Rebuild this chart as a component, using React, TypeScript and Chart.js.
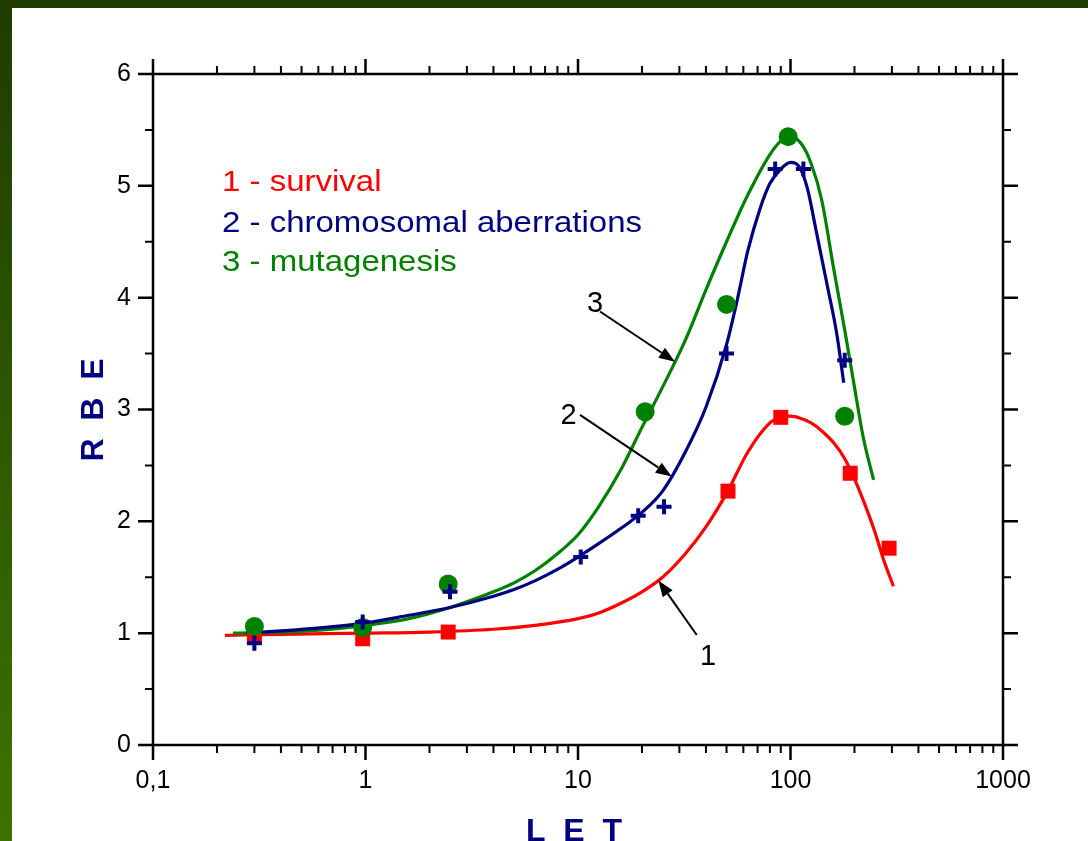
import React, { useEffect, useRef } from "react";
import { Chart, registerables } from "chart.js";

Chart.register(...registerables);

const FONT = "'Liberation Sans', Arial, sans-serif";

// Measured points
const survivalX = [0.3, 0.97, 2.45, 50.8, 90, 191, 291];
const survivalY = [0.97, 0.95, 1.01, 2.27, 2.93, 2.43, 1.76];
const chromX = [0.3, 0.97, 2.5, 10.3, 19.2, 25.4, 50, 84.7, 115, 180];
const chromY = [0.91, 1.1, 1.37, 1.68, 2.05, 2.13, 3.5, 5.15, 5.15, 3.44];
const mutaX = [0.3, 0.97, 2.45, 20.7, 50, 97.5, 180];
const mutaY = [1.06, 1.05, 1.44, 2.98, 3.94, 5.44, 2.94];

// Fitted curves
const survivalFitX = [0.218, 0.4, 1, 2, 4, 6.3, 10, 12.5, 16, 20, 25, 32, 40, 50, 63, 80, 90, 100, 112, 125, 140, 160, 180, 200, 225, 250, 275, 305];
const survivalFitY = [0.98, 0.99, 1.0, 1.01, 1.035, 1.07, 1.13, 1.18, 1.27, 1.37, 1.5, 1.71, 1.95, 2.25, 2.62, 2.88, 2.93, 2.94, 2.92, 2.88, 2.81, 2.7, 2.56, 2.38, 2.14, 1.9, 1.65, 1.42];
const chromFitX = [0.275, 0.4, 0.63, 1, 1.6, 2.5, 4, 5, 6.3, 8, 10, 12.5, 16, 20, 25, 32, 40, 50, 56, 63, 72, 80, 90, 100, 110, 120, 132, 150, 165, 178];
const chromFitY = [1.0, 1.02, 1.05, 1.09, 1.16, 1.23, 1.33, 1.39, 1.47, 1.57, 1.68, 1.8, 1.94, 2.08, 2.27, 2.62, 3.02, 3.58, 3.97, 4.42, 4.8, 5.02, 5.15, 5.21, 5.17, 4.98, 4.6, 4.08, 3.68, 3.24];
const mutaFitX = [0.238, 0.4, 0.63, 1, 1.6, 2.5, 4, 5, 6.3, 8, 10, 12.5, 16, 20, 25, 32, 40, 50, 63, 80, 90, 100, 112, 125, 140, 160, 180, 200, 220, 246];
const mutaFitY = [1.0, 1.01, 1.03, 1.07, 1.13, 1.23, 1.37, 1.45, 1.56, 1.71, 1.88, 2.13, 2.47, 2.84, 3.2, 3.62, 4.07, 4.5, 4.92, 5.28, 5.4, 5.44, 5.38, 5.2, 4.88, 4.25, 3.71, 3.2, 2.75, 2.37];

// Axis ticks
const xTickValues = [0.1, 1, 10, 100, 1000];
const xTickLabels = ["0,1", "1", "10", "100", "1000"];
const yTickValues = [0, 1, 2, 3, 4, 5, 6];

// Text
const legendLabels = ["1 - survival", "2 - chromosomal aberrations", "3 - mutagenesis"];
const seriesColors = ["#ff0000", "#000080", "#008000"];
const xTitle = "L  E  T";
const yTitle = "R  B  E";

// Curve annotations (data coordinates)
const curveLabels = ["1", "2", "3"];
const labelX = [40.9, 9.02, 12.03];
const labelY = [0.787, 2.938, 3.94];
const arrowFromX = [36.2, 10.22, 12.69];
const arrowFromY = [0.984, 2.952, 3.876];
const arrowToX = [23.9, 27.6, 28.6];
const arrowToY = [1.47, 2.4, 3.428];

const zip = (xs: number[], ys: number[]) => xs.map((x, i) => ({ x, y: ys[i] }));

const decorPlugin = {
  id: "decor",
  beforeDraw(chart: any) {
    const ctx = chart.ctx;
    const W = chart.width;
    const H = chart.height;
    ctx.save();
    const g = ctx.createLinearGradient(0, 0, 0, H);
    g.addColorStop(0, "#1e3c00");
    g.addColorStop(1, "#3d7300");
    ctx.fillStyle = g;
    ctx.fillRect(0, 0, W, H);
    ctx.fillStyle = "#ffffff";
    ctx.fillRect(12, 8, W - 12, H - 8);
    ctx.restore();
  },
  afterDraw(chart: any) {
    const ctx = chart.ctx;
    const { left, right, top, bottom } = chart.chartArea;
    const xs = chart.scales.x;
    const ys = chart.scales.y;
    ctx.save();
    ctx.strokeStyle = "#000";
    ctx.lineWidth = 2.5;
    ctx.strokeRect(left, top, right - left, bottom - top);

    const majorLen = 15;
    const minorLen = 8;
    for (const d of [0.1, 1, 10, 100]) {
      for (let m = 1; m <= 9; m++) {
        const px = xs.getPixelForValue(d * m);
        const len = m === 1 ? majorLen : minorLen;
        ctx.lineWidth = m === 1 ? 2.5 : 2;
        ctx.beginPath();
        ctx.moveTo(px, bottom);
        ctx.lineTo(px, bottom + len);
        ctx.moveTo(px, top);
        ctx.lineTo(px, top - len);
        ctx.stroke();
      }
    }
    {
      const px = xs.getPixelForValue(1000);
      ctx.lineWidth = 2.5;
      ctx.beginPath();
      ctx.moveTo(px, bottom);
      ctx.lineTo(px, bottom + majorLen);
      ctx.moveTo(px, top);
      ctx.lineTo(px, top - majorLen);
      ctx.stroke();
    }
    for (let v = 0; v <= 6.001; v += 0.5) {
      const py = ys.getPixelForValue(v);
      const major = Math.abs(v - Math.round(v)) < 1e-6;
      const len = major ? majorLen : minorLen;
      ctx.lineWidth = major ? 2.5 : 2;
      ctx.beginPath();
      ctx.moveTo(left, py);
      ctx.lineTo(left - len, py);
      ctx.moveTo(right, py);
      ctx.lineTo(right + len, py);
      ctx.stroke();
    }

    // annotation arrows
    ctx.lineWidth = 2;
    ctx.strokeStyle = "#000";
    ctx.fillStyle = "#000";
    for (let i = 0; i < curveLabels.length; i++) {
      const x0 = xs.getPixelForValue(arrowFromX[i]);
      const y0 = ys.getPixelForValue(arrowFromY[i]);
      const x1 = xs.getPixelForValue(arrowToX[i]);
      const y1 = ys.getPixelForValue(arrowToY[i]);
      const ang = Math.atan2(y1 - y0, x1 - x0);
      const hl = 16;
      const hw = 6;
      const bx = x1 - hl * Math.cos(ang);
      const by = y1 - hl * Math.sin(ang);
      ctx.beginPath();
      ctx.moveTo(x0, y0);
      ctx.lineTo(bx, by);
      ctx.stroke();
      ctx.beginPath();
      ctx.moveTo(x1, y1);
      ctx.lineTo(bx + hw * Math.sin(ang), by - hw * Math.cos(ang));
      ctx.lineTo(bx - hw * Math.sin(ang), by + hw * Math.cos(ang));
      ctx.closePath();
      ctx.fill();

      ctx.font = `29px ${FONT}`;
      ctx.textAlign = "center";
      ctx.textBaseline = "middle";
      ctx.fillText(curveLabels[i], xs.getPixelForValue(labelX[i]), ys.getPixelForValue(labelY[i]));
    }

    // legend text
    const baselines = [191, 232, 271];
    for (let i = 0; i < legendLabels.length; i++) {
      ctx.save();
      ctx.font = `30px ${FONT}`;
      ctx.textAlign = "left";
      ctx.textBaseline = "alphabetic";
      ctx.fillStyle = seriesColors[i];
      ctx.translate(222, baselines[i]);
      ctx.scale(1.1, 1);
      ctx.fillText(legendLabels[i], 0, 0);
      ctx.restore();
    }

    // axis titles
    ctx.fillStyle = "#000080";
    ctx.font = `bold 32px ${FONT}`;
    ctx.textAlign = "center";
    ctx.textBaseline = "alphabetic";
    ctx.fillText(xTitle, 574, 840.5);
    ctx.save();
    ctx.translate(94, 410);
    ctx.rotate(-Math.PI / 2);
    ctx.textBaseline = "middle";
    ctx.fillText(yTitle, 0, 0);
    ctx.restore();

    ctx.restore();
  },
};

const fitStyle = (color: string) => ({
  showLine: true,
  pointRadius: 0,
  borderColor: color,
  borderWidth: 3.2,
  cubicInterpolationMode: "monotone",
});

export default function App() {
  const ref = useRef<HTMLCanvasElement>(null);
  useEffect(() => {
    const canvas = ref.current;
    if (!canvas) return;
    const chart = new Chart(canvas, {
      type: "scatter",
      data: {
        datasets: [
          {
            label: "chrom pts",
            data: zip(chromX, chromY),
            pointStyle: "cross",
            pointRadius: 7.5,
            borderColor: "#000080",
            borderWidth: 4,
            backgroundColor: "#000080",
            showLine: false,
          },
          {
            label: "muta pts",
            data: zip(mutaX, mutaY),
            pointStyle: "circle",
            pointRadius: 9.5,
            borderWidth: 0,
            backgroundColor: "#008000",
            showLine: false,
          },
          {
            label: "surv pts",
            data: zip(survivalX, survivalY),
            pointStyle: "rect",
            pointRadius: 10.6,
            borderWidth: 0,
            backgroundColor: "#ff0000",
            showLine: false,
          },
          { label: "chrom fit", data: zip(chromFitX, chromFitY), ...fitStyle("#000080") },
          { label: "muta fit", data: zip(mutaFitX, mutaFitY), ...fitStyle("#008000") },
          { label: "surv fit", data: zip(survivalFitX, survivalFitY), ...fitStyle("#ff0000") },
        ],
      },
      options: {
        responsive: false,
        animation: false,
        devicePixelRatio: 1,
        layout: { padding: { left: 0, right: 85, top: 74, bottom: 0 } },
        plugins: {
          legend: { display: false },
          tooltip: { enabled: false },
        },
        scales: {
          x: {
            type: "logarithmic",
            position: "bottom",
            min: 0.1,
            max: 1000,
            grid: { display: false, drawTicks: false, tickLength: 0 },
            border: { display: false },
            afterBuildTicks: (s: any) => {
              s.ticks = xTickValues.map((v) => ({ value: v }));
            },
            afterFit: (s: any) => {
              s.height = 96;
            },
            ticks: {
              autoSkip: false,
              maxRotation: 0,
              padding: 21,
              color: "#000",
              font: { family: FONT, size: 25 },
              callback: (v: any) => {
                const i = xTickValues.indexOf(Number(v));
                return i >= 0 ? xTickLabels[i] : "";
              },
            },
          },
          y: {
            type: "linear",
            position: "left",
            min: 0,
            max: 6,
            grid: { display: false, drawTicks: false, tickLength: 0 },
            border: { display: false },
            afterBuildTicks: (s: any) => {
              s.ticks = yTickValues.map((v) => ({ value: v }));
            },
            afterFit: (s: any) => {
              s.width = 153;
            },
            ticks: {
              padding: 22,
              color: "#000",
              font: { family: FONT, size: 25 },
              callback: (v: any) => String(v),
            },
          },
        },
      } as any,
      plugins: [decorPlugin],
    });
    return () => chart.destroy();
  }, []);
  return (
    <div style={{ position: "fixed", left: 0, top: 0, width: 1088, height: 841 }}>
      <canvas ref={ref} width={1088} height={841} style={{ display: "block" }} />
    </div>
  );
}
